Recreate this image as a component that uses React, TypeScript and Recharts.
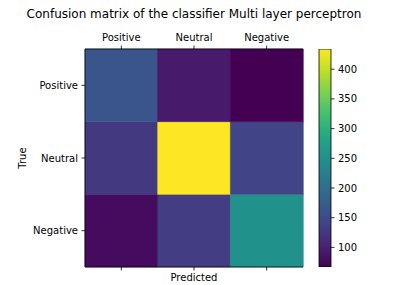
import React from 'react';
import { BarChart, Bar, XAxis, YAxis, Cell } from 'recharts';

const predictedLabels = ['Positive', 'Neutral', 'Negative'];
const trueLabels = ['Positive', 'Neutral', 'Negative'];
// rows = true class, columns = predicted class
const truePositiveRow = [163, 93, 67];
const trueNeutralRow = [128, 434, 140];
const trueNegativeRow = [78, 132, 250];
const colorbarTicks = [100, 150, 200, 250, 300, 350, 400];

const allValues = [...truePositiveRow, ...trueNeutralRow, ...trueNegativeRow];
const vMin = Math.min(...allValues);
const vMax = Math.max(...allValues);

const viridisStops = [
  '#440154', '#482475', '#414487', '#355f8d', '#2a788e', '#21918c',
  '#22a884', '#44bf70', '#7ad151', '#bddf26', '#fde725',
];

function hexToRgb(h: string) {
  return [parseInt(h.slice(1, 3), 16), parseInt(h.slice(3, 5), 16), parseInt(h.slice(5, 7), 16)];
}
function viridis(v: number) {
  const t = Math.max(0, Math.min(1, (v - vMin) / (vMax - vMin)));
  const p = t * (viridisStops.length - 1);
  const i = Math.min(viridisStops.length - 2, Math.floor(p));
  const f = p - i;
  const a = hexToRgb(viridisStops[i]);
  const b = hexToRgb(viridisStops[i + 1]);
  const c = a.map((x, k) => Math.round(x + (b[k] - x) * f));
  return `rgb(${c[0]},${c[1]},${c[2]})`;
}

const rows: Record<string, number[]> = {
  Positive: truePositiveRow,
  Neutral: trueNeutralRow,
  Negative: trueNegativeRow,
};

const data = predictedLabels.map((p, i) => ({
  predicted: p,
  Positive: truePositiveRow[i],
  Neutral: trueNeutralRow[i],
  Negative: trueNegativeRow[i],
}));

const cbData = [{ name: 'cb', range: [vMin, vMax] }];

const font = 'DejaVu Sans';
const tickStyle = { fontSize: 10, fill: '#000', fontFamily: font };
const lineStyle = { stroke: '#000', strokeWidth: 0.8 };

// bottom row first (stacking order)
const stackOrder = ['Negative', 'Neutral', 'Positive'];

export default function App() {
  return (
    <div style={{ position: 'absolute', left: 0, top: 0, width: 404, height: 285, background: '#fff', fontFamily: font }}>
      <div
        style={{
          position: 'absolute', left: 0, top: 6, width: 388, textAlign: 'center',
          fontSize: 12, lineHeight: '16px', color: '#000', whiteSpace: 'nowrap', fontFamily: font,
        }}
      >
        Confusion matrix of the classifier Multi layer perceptron
      </div>
      <div style={{ position: 'absolute', left: 0, top: 0 }}>
        <BarChart
          width={404}
          height={285}
          data={data}
          margin={{ top: 29, right: 101, bottom: 0, left: 25 }}
          barCategoryGap={0}
          barGap={0}
        >
          <XAxis
            xAxisId="top"
            dataKey="predicted"
            orientation="top"
            height={20}
            tick={tickStyle}
            tickSize={3.5}
            tickMargin={4.5}
            axisLine={lineStyle}
            tickLine={lineStyle}
            interval={0}
          />
          <XAxis
            xAxisId="bottom"
            dataKey="predicted"
            orientation="bottom"
            height={18}
            tick={tickStyle}
            tickFormatter={() => ''}
            tickSize={3.5}
            axisLine={lineStyle}
            tickLine={lineStyle}
            interval={0}
            label={{ value: 'Predicted', position: 'insideBottom', offset: 4, fontSize: 10, fill: '#000', fontFamily: font }}
          />
          <YAxis
            yAxisId="left"
            type="number"
            domain={[0, 3]}
            ticks={[0.5, 1.5, 2.5]}
            tickFormatter={(v: number) => trueLabels[2 - Math.floor(v)]}
            width={60}
            tick={tickStyle}
            tickSize={3.5}
            tickMargin={3.5}
            axisLine={lineStyle}
            tickLine={lineStyle}
            label={{
              value: 'True', angle: -90, position: 'left', offset: 3,
              fontSize: 10, fill: '#000', fontFamily: font, style: { textAnchor: 'middle' },
            }}
          />
          <YAxis
            yAxisId="right"
            orientation="right"
            type="number"
            domain={[0, 3]}
            width={0}
            tick={false}
            tickLine={false}
            axisLine={lineStyle}
          />
          {stackOrder.map((row) => (
            <Bar
              key={row}
              xAxisId="top"
              yAxisId="left"
              stackId="m"
              dataKey={() => 1}
              isAnimationActive={false}
            >
              {rows[row].map((v, i) => (
                <Cell key={i} fill={viridis(v)} stroke={viridis(v)} strokeWidth={0.5} />
              ))}
            </Bar>
          ))}
        </BarChart>
      </div>
      <div style={{ position: 'absolute', left: 0, top: 0 }}>
        <BarChart
          width={404}
          height={285}
          data={cbData}
          margin={{ top: 49, right: 33, bottom: 18, left: 319 }}
          barCategoryGap={0}
          barGap={0}
        >
          <defs>
            <linearGradient id="viridisGrad" x1="0" y1="1" x2="0" y2="0">
              {viridisStops.map((c, i) => (
                <stop key={i} offset={`${(i / (viridisStops.length - 1)) * 100}%`} stopColor={c} />
              ))}
            </linearGradient>
          </defs>
          <XAxis dataKey="name" hide />
          <YAxis
            orientation="right"
            type="number"
            domain={[vMin, vMax]}
            ticks={colorbarTicks}
            width={40}
            tick={tickStyle}
            tickSize={3.5}
            tickMargin={3.5}
            axisLine={false}
            tickLine={lineStyle}
            allowDataOverflow
          />
          <Bar dataKey="range" fill="url(#viridisGrad)" stroke="#000" strokeWidth={0.8} isAnimationActive={false} />
        </BarChart>
      </div>
    </div>
  );
}
